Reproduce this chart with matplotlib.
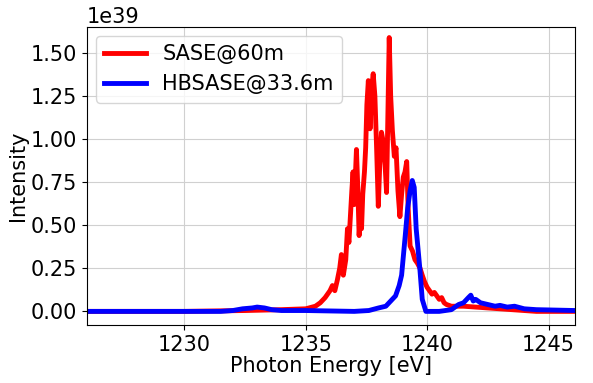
import matplotlib.pyplot as plt

# SASE spectrum at 60 m
sase_e = [1226.0, 1230.0, 1232.5, 1234.0, 1235.0, 1235.4, 1235.6, 1235.8, 1236.0, 1236.1,
          1236.2, 1236.3, 1236.4, 1236.47, 1236.55, 1236.65, 1236.72, 1236.78, 1236.84, 1236.9,
          1236.95, 1237.0, 1237.05, 1237.09, 1237.15, 1237.2, 1237.25, 1237.3, 1237.35, 1237.42,
          1237.47, 1237.52, 1237.58, 1237.65, 1237.72, 1237.78, 1237.85, 1237.92, 1237.99, 1238.05,
          1238.12, 1238.2, 1238.27, 1238.33, 1238.38, 1238.44, 1238.5, 1238.57, 1238.65, 1238.72,
          1238.8, 1238.88, 1238.95, 1239.02, 1239.09, 1239.16, 1239.22, 1239.3, 1239.4, 1239.5,
          1239.6, 1239.71, 1239.8, 1239.9, 1240.0, 1240.1, 1240.2, 1240.3, 1240.4, 1240.5,
          1240.6, 1240.7, 1240.8, 1241.0, 1241.5, 1242.0, 1242.5, 1243.0, 1243.5, 1244.5,
          1246.1]
sase_i = [0.0, 0.0, 0.005, 0.01, 0.015, 0.03, 0.05, 0.08, 0.12, 0.15,
          0.12, 0.18, 0.25, 0.33, 0.21, 0.30, 0.48, 0.40, 0.55, 0.70,
          0.81, 0.62, 0.80, 0.94, 0.70, 0.44, 0.55, 0.48, 0.68, 0.81,
          0.95, 1.20, 1.34, 1.06, 1.30, 1.38, 1.25, 0.95, 0.61, 0.85,
          1.04, 0.98, 0.85, 0.69, 1.10, 1.59, 1.25, 1.05, 0.90, 0.95,
          0.70, 0.55, 0.68, 0.78, 0.81, 0.87, 0.60, 0.38, 0.35, 0.30,
          0.28, 0.25, 0.21, 0.17, 0.14, 0.12, 0.10, 0.11, 0.09, 0.07,
          0.08, 0.05, 0.04, 0.03, 0.03, 0.025, 0.02, 0.015, 0.01, 0.0,
          0.0]

# HBSASE spectrum at 33.6 m
hb_e = [1226.0, 1231.5, 1232.0, 1232.4, 1232.8, 1233.0, 1233.3, 1233.6, 1234.0, 1235.0,
        1237.0, 1237.6, 1238.0, 1238.3, 1238.5, 1238.7, 1238.85, 1238.95, 1239.1, 1239.2,
        1239.3, 1239.39, 1239.47, 1239.55, 1239.7, 1239.8, 1239.95, 1240.5, 1241.0, 1241.3,
        1241.5, 1241.7, 1241.8, 1241.9, 1242.0, 1242.2, 1242.5, 1242.8, 1243.0, 1243.3,
        1243.6, 1244.0, 1244.5, 1246.1]
hb_i = [0.0, 0.0, 0.005, 0.015, 0.02, 0.025, 0.02, 0.01, 0.005, 0.005,
        0.0, 0.005, 0.02, 0.03, 0.06, 0.09, 0.15, 0.21, 0.44, 0.60,
        0.70, 0.76, 0.72, 0.48, 0.25, 0.07, 0.0, 0.0, 0.01, 0.04,
        0.05, 0.08, 0.094, 0.06, 0.07, 0.05, 0.04, 0.03, 0.035, 0.025,
        0.03, 0.015, 0.01, 0.005]

scale = 1e39

fig = plt.figure(figsize=(5.93, 3.83), dpi=100)
ax = fig.add_axes([0.147, 0.151, 0.823, 0.778])

ax.plot(sase_e, [v * scale for v in sase_i], color="red", lw=3.5, label="SASE@60m")
ax.plot(hb_e, [v * scale for v in hb_i], color="blue", lw=3.5, label="HBSASE@33.6m")

ax.set_xlim(1226.0, 1246.1)
ax.set_ylim(-0.08 * scale, 1.65 * scale)
ax.set_xticks([1230, 1235, 1240, 1245])
ax.set_yticks([0, 0.25e39, 0.5e39, 0.75e39, 1.0e39, 1.25e39, 1.5e39])
ax.tick_params(labelsize=15)
ax.yaxis.get_offset_text().set_fontsize(15)
ax.grid(True, color="#d0d0d0", lw=0.8)
ax.set_xlabel("Photon Energy [eV]", fontsize=15, labelpad=1)
ax.set_ylabel("Intensity", fontsize=15, labelpad=2)
ax.legend(loc="upper left", fontsize=15, handlelength=2.0, borderaxespad=0.4)

plt.savefig("out.png", dpi=100)
